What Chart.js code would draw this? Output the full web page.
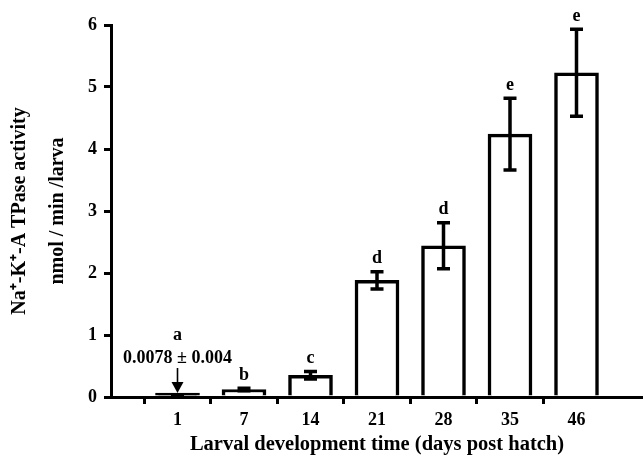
<!DOCTYPE html>
<html><head><meta charset="utf-8">
<script src="https://cdn.jsdelivr.net/npm/chart.js@4.4.1/dist/chart.umd.min.js"></script>
<style>html,body{margin:0;padding:0;background:#fff}</style>
</head><body>
<canvas id="c" width="643" height="457"></canvas>
<script>
const categories = ['1','7','14','21','28','35','46'];
const means = [0.0078, 0.12, 0.35, 1.88, 2.44, 4.24, 5.23];
const errors = [0.004, 0.02, 0.06, 0.14, 0.37, 0.58, 0.70];
const letters = ['a','b','c','d','d','e','e'];
const yTicks = [0,1,2,3,4,5,6];
const xTitle = 'Larval development time (days post hatch)';
const yTitle = ['Na\u207A-K\u207A-A TPase activity', 'nmol / min /larva'];

const labels = ['', ...categories, ''];
const data = [null, ...means, null];
const errs = [null, ...errors, null];
const lets = [null, ...letters, null];
const FONT = '"Liberation Serif", "Times New Roman", serif';

const errPlugin = {
  id: 'err',
  afterDatasetsDraw(chart) {
    const {ctx, scales: {x, y}} = chart;
    ctx.save();
    ctx.strokeStyle = '#000'; ctx.fillStyle = '#000';
    ctx.lineWidth = 3.5;
    ctx.font = 'bold 18px ' + FONT;
    ctx.textAlign = 'center'; ctx.textBaseline = 'middle';
    const y0 = y.getPixelForValue(0);
    data.forEach((v, i) => {
      if (v == null) return;
      const px = x.getPixelForValue(i);
      const top = y.getPixelForValue(v + errs[i]);
      const bot = y.getPixelForValue(v - errs[i]);
      ctx.beginPath();
      ctx.moveTo(px, top); ctx.lineTo(px, bot);
      ctx.moveTo(px - 6.5, top); ctx.lineTo(px + 6.5, top);
      ctx.moveTo(px - 6.5, bot); ctx.lineTo(px + 6.5, bot);
      ctx.stroke();
      if (i === 1) {
        ctx.fillText(lets[i], px, y0 - 62);
        ctx.fillText(means[0] + ' \u00B1 ' + errors[0], px, y0 - 39);
        ctx.lineWidth = 1.6;
        ctx.beginPath(); ctx.moveTo(px, y0 - 29); ctx.lineTo(px, y0 - 14); ctx.stroke();
        ctx.beginPath(); ctx.moveTo(px - 6, y0 - 15); ctx.lineTo(px + 6, y0 - 15); ctx.lineTo(px, y0 - 4); ctx.closePath(); ctx.fill();
        ctx.lineWidth = 3.5;
      } else {
        ctx.fillText(lets[i], px, top - 13);
      }
    });
    ctx.restore();
  }
};

new Chart(document.getElementById('c'), {
  type: 'bar',
  data: {
    labels: labels,
    datasets: [{
      data: data,
      backgroundColor: (c) => (c.raw != null && c.raw < 0.05 ? '#000' : '#fff'),
      borderColor: '#000',
      borderWidth: 3.5,
      borderSkipped: 'start',
      barThickness: 44,
      minBarLength: 4
    }]
  },
  options: {
    responsive: false,
    animation: false,
    layout: {padding: {top: 25, right: 0, bottom: 0, left: 0}},
    plugins: {legend: {display: false}, tooltip: {enabled: false}},
    scales: {
      x: {
        z: 1,
        offset: false,
        afterFit: (s) => { s.height = 60; s.paddingRight = 0; s.paddingLeft = 0; },
        grid: {
          drawOnChartArea: false, tickLength: 7, lineWidth: 3,
          color: (c) => (labels[c.index] ? '#000' : 'rgba(0,0,0,0)')
        },
        border: {display: true, color: '#000', width: 3},
        ticks: {color: '#000', font: {family: FONT, size: 18, weight: 'bold'}, padding: 6, autoSkip: false, maxRotation: 0},
        title: {display: true, text: xTitle, color: '#000', font: {family: FONT, size: 20.5, weight: 'bold'}, padding: {top: 0, bottom: 0}}
      },
      y: {
        z: 1,
        min: yTicks[0], max: yTicks[yTicks.length - 1],
        afterFit: (s) => { s.width = 111; },
        afterBuildTicks: (s) => { s.ticks = yTicks.map(v => ({value: v})); },
        grid: {drawOnChartArea: false, tickLength: 7, lineWidth: 3, color: '#000'},
        border: {display: true, color: '#000', width: 3},
        ticks: {color: '#000', font: {family: FONT, size: 18, weight: 'bold'}, padding: 7},
        title: {display: true, text: yTitle, color: '#000', font: {family: FONT, size: 20, weight: 'bold', lineHeight: 1.9}, padding: {top: 1, bottom: 0}}
      }
    }
  },
  plugins: [errPlugin]
});
</script>
</body></html>
